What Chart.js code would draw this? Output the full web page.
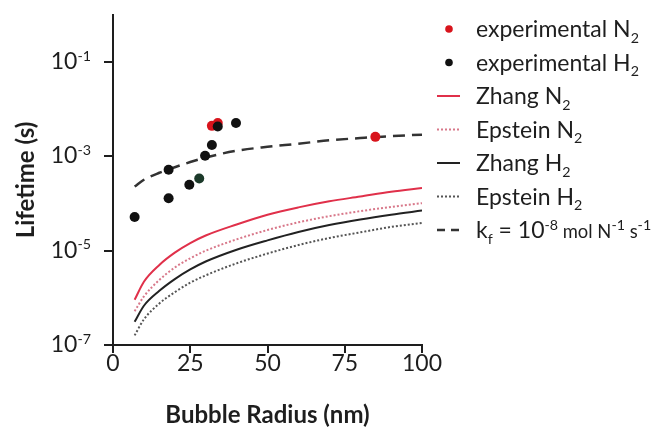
<!DOCTYPE html>
<html>
<head>
<meta charset="utf-8">
<script src="https://cdn.jsdelivr.net/npm/chart.js@4.4.1/dist/chart.umd.min.js"></script>
<style>
  html, body { margin: 0; padding: 0; background: #ffffff; }
  #wrap { width: 656px; height: 427px; }
</style>
</head>
<body>
<div id="wrap"><canvas id="c" width="656" height="427"></canvas></div>
<script>
// Bubble radius (nm) at which the model curves are tabulated
const radiusGrid = [7, 10, 15, 20, 25, 30, 40, 50, 60, 70, 80, 90, 100];

// Model lifetimes (s)
const zhangN2   = [9.1e-7, 2.2e-6, 5.0e-6, 9.1e-6, 1.45e-5, 2.1e-5, 3.6e-5, 5.8e-5, 8.3e-5, 1.12e-4, 1.41e-4, 1.78e-4, 2.14e-4];
const epsteinN2 = [5.2e-7, 1.07e-6, 2.4e-6, 4.4e-6, 6.9e-6, 1.0e-5, 1.74e-5, 2.75e-5, 4.0e-5, 5.4e-5, 6.9e-5, 8.5e-5, 1.02e-4];
const zhangH2   = [3.1e-7, 6.8e-7, 1.41e-6, 2.5e-6, 4.0e-6, 5.9e-6, 1.05e-5, 1.66e-5, 2.5e-5, 3.5e-5, 4.6e-5, 5.8e-5, 7.1e-5];
const epsteinH2 = [1.6e-7, 3.5e-7, 7.6e-7, 1.32e-6, 2.1e-6, 3.0e-6, 5.4e-6, 8.7e-6, 1.32e-5, 1.86e-5, 2.45e-5, 3.2e-5, 3.9e-5];
const kfModel   = [2.3e-4, 3.2e-4, 4.5e-4, 5.9e-4, 7.6e-4, 9.5e-4, 1.32e-3, 1.6e-3, 1.86e-3, 2.2e-3, 2.45e-3, 2.7e-3, 2.9e-3];

// Measured lifetimes
const expN2Radius = [32.0, 33.9, 84.9];
const expN2Life   = [4.45e-3, 5.1e-3, 2.6e-3];
const expH2Radius = [7.0, 18.0, 18.0, 24.7, 27.9, 29.8, 32.0, 33.9, 39.8];
const expH2Life   = [5.2e-5, 5.2e-4, 1.3e-4, 2.5e-4, 3.4e-4, 1.03e-3, 1.74e-3, 4.3e-3, 5.1e-3];

// Axis ticks
const xTicks = [0, 25, 50, 75, 100];
const yTickExponents = [-7, -5, -3, -1];

const FONT = 'Lato, "Open Sans", "DejaVu Sans", sans-serif';
const INK = '#1e1e1e';

const pts = (xs, ys) => xs.map((x, i) => ({ x: x, y: ys[i] }));

// one slightly greener marker among the H2 measurements
const h2MarkerColor = (ctx) => (ctx.dataIndex === 4 ? '#1c3a2a' : '#111111');

const datasets = [
  { label: 'experimental N2', data: pts(expN2Radius, expN2Life), order: 1,
    backgroundColor: '#d8141c', borderColor: '#d8141c', pointRadius: 5, pointBorderWidth: 0, showLine: false },
  { label: 'experimental H2', data: pts(expH2Radius, expH2Life), order: 0,
    backgroundColor: h2MarkerColor, borderColor: h2MarkerColor, pointRadius: 5, pointBorderWidth: 0, showLine: false },
  { label: 'Zhang N2', data: pts(radiusGrid, zhangN2), order: 2, showLine: true, pointRadius: 0,
    borderColor: '#e0304a', borderWidth: 2, cubicInterpolationMode: 'monotone' },
  { label: 'Epstein N2', data: pts(radiusGrid, epsteinN2), order: 3, showLine: true, pointRadius: 0,
    borderColor: '#d8788a', borderWidth: 2, borderDash: [2, 2], cubicInterpolationMode: 'monotone' },
  { label: 'Zhang H2', data: pts(radiusGrid, zhangH2), order: 4, showLine: true, pointRadius: 0,
    borderColor: '#222222', borderWidth: 2, cubicInterpolationMode: 'monotone' },
  { label: 'Epstein H2', data: pts(radiusGrid, epsteinH2), order: 5, showLine: true, pointRadius: 0,
    borderColor: '#555555', borderWidth: 2, borderDash: [2, 2], cubicInterpolationMode: 'monotone' },
  { label: 'kf', data: pts(radiusGrid, kfModel), order: 6, showLine: true, pointRadius: 0,
    borderColor: '#333333', borderWidth: 2.5, borderDash: [12, 7], cubicInterpolationMode: 'monotone' }
];

// Legend rows: rich text pieces (sub/superscripts) and the dataset each row describes
const legendRows = [
  { ds: 0, kind: 'dot',  parts: [{ t: 'experimental N' }, { t: '2', sub: true }] },
  { ds: 1, kind: 'dot',  parts: [{ t: 'experimental H' }, { t: '2', sub: true }] },
  { ds: 2, kind: 'line', parts: [{ t: 'Zhang N' }, { t: '2', sub: true }] },
  { ds: 3, kind: 'line', parts: [{ t: 'Epstein N' }, { t: '2', sub: true }] },
  { ds: 4, kind: 'line', parts: [{ t: 'Zhang H' }, { t: '2', sub: true }] },
  { ds: 5, kind: 'line', parts: [{ t: 'Epstein H' }, { t: '2', sub: true }] },
  { ds: 6, kind: 'line', parts: [{ t: 'k' }, { t: 'f', sub: true }, { t: ' = 10' }, { t: '-8', sup: true },
                                 { t: ' mol N', small: true }, { t: '-1', sup: true }, { t: ' s', small: true }, { t: '-1', sup: true }] }
];

function richWidth(ctx, parts, base) {
  let w = 0;
  for (const p of parts) {
    const size = p.sub || p.sup ? base * 0.62 : (p.small ? base * 0.8 : base);
    ctx.font = `${size}px ${FONT}`;
    w += ctx.measureText(p.t).width;
  }
  return w;
}

function drawRich(ctx, x, y, parts, base) {
  let cx = x;
  for (const p of parts) {
    let size = base, dy = 0;
    if (p.small) size = base * 0.8;
    if (p.sub) { size = base * 0.62; dy = base * 0.24; }
    if (p.sup) { size = base * 0.62; dy = -base * 0.36; }
    ctx.font = `${size}px ${FONT}`;
    ctx.fillText(p.t, cx, y + dy);
    cx += ctx.measureText(p.t).width;
  }
}

const decorations = {
  id: 'decorations',
  afterDraw(chart) {
    const ctx = chart.ctx;
    const y = chart.scales.y;
    ctx.save();
    ctx.fillStyle = INK;
    ctx.textBaseline = 'alphabetic';
    ctx.textAlign = 'left';

    // power-of-ten tick labels
    for (const e of yTickExponents) {
      const py = y.getPixelForValue(Math.pow(10, e));
      const parts = [{ t: '10' }, { t: String(e), sup: true }];
      const w = richWidth(ctx, parts, 23);
      drawRich(ctx, 91 - w, py + 7, parts, 23);
    }

    // legend
    const rowY0 = 37, rowStep = 33.5, textX = 476;
    legendRows.forEach((row, i) => {
      const ds = chart.data.datasets[row.ds];
      const cy = rowY0 + i * rowStep;
      const my = cy - 8;
      if (row.kind === 'dot') {
        ctx.beginPath();
        ctx.fillStyle = row.ds === 0 ? '#d8141c' : '#111111';
        ctx.arc(449, my, 3.8, 0, Math.PI * 2);
        ctx.fill();
      } else {
        ctx.beginPath();
        ctx.strokeStyle = ds.borderColor;
        ctx.lineWidth = ds.borderWidth;
        ctx.setLineDash(row.ds === 6 ? [8, 6] : (ds.borderDash || []));
        ctx.moveTo(437, my);
        ctx.lineTo(460, my);
        ctx.stroke();
        ctx.setLineDash([]);
      }
      ctx.fillStyle = INK;
      drawRich(ctx, textX, cy, row.parts, 23);
    });
    ctx.restore();
  }
};

new Chart(document.getElementById('c'), {
  type: 'scatter',
  data: { datasets: datasets },
  plugins: [decorations],
  options: {
    responsive: false,
    animation: false,
    devicePixelRatio: 1,
    layout: { padding: { left: 0, right: 234, top: 15, bottom: 0 } },
    plugins: { legend: { display: false }, tooltip: { enabled: false } },
    scales: {
      x: {
        type: 'linear', min: 0, max: 100,
        afterBuildTicks: (s) => { s.ticks = xTicks.map(v => ({ value: v })); },
        afterFit: (s) => { s.height = 82; },
        grid: { drawOnChartArea: false, drawTicks: true, tickLength: 8, color: INK, lineWidth: 2 },
        border: { display: true, color: INK, width: 2 },
        ticks: { color: INK, font: { family: FONT, size: 23 }, padding: -3, maxRotation: 0 },
        title: { display: true, text: 'Bubble Radius (nm)', color: INK,
                 font: { family: FONT, size: 24, weight: 'bold' }, padding: { top: 0, bottom: -3 } }
      },
      y: {
        type: 'logarithmic', min: 1e-7, max: 1,
        afterBuildTicks: (s) => { s.ticks = yTickExponents.map(e => ({ value: Math.pow(10, e) })); },
        afterFit: (s) => { s.width = 113; },
        grid: { drawOnChartArea: false, drawTicks: true, tickLength: 9, color: INK, lineWidth: 2 },
        border: { display: true, color: INK, width: 2 },
        ticks: { display: false },
        title: { display: true, text: 'Lifetime (s)', color: INK,
                 font: { family: FONT, size: 24, weight: 'bold' }, padding: { top: 12, bottom: 0 } }
      }
    }
  }
});
</script>
</body>
</html>
